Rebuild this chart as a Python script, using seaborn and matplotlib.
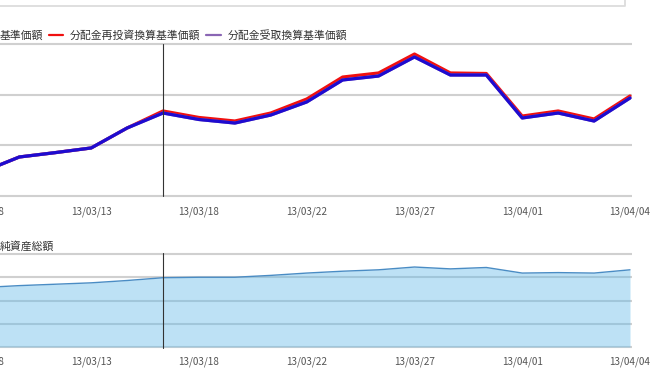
import pandas as pd
import seaborn as sns
import matplotlib.pyplot as plt
from matplotlib.lines import Line2D

dates = ['13/03/08', '13/03/11', '13/03/12', '13/03/13', '13/03/14', '13/03/15', '13/03/18',
         '13/03/19', '13/03/21', '13/03/22', '13/03/25', '13/03/26', '13/03/27', '13/03/28',
         '13/03/29', '13/04/01', '13/04/02', '13/04/03', '13/04/04']
# 基準価額
nav = [9242, 9385, 9428, 9474, 9671, 9819, 9755, 9720, 9799, 9928,
       10145, 10184, 10372, 10194, 10194, 9770, 9819, 9740, 9967]
# 分配金再投資換算基準価額
nav_reinvest = [9242, 9385, 9428, 9474, 9671, 9839, 9775, 9740, 9819, 9957,
                10174, 10214, 10401, 10214, 10209, 9789, 9839, 9760, 9987]
# 分配金受取換算基準価額
nav_receive = [9242, 9385, 9428, 9474, 9671, 9819, 9755, 9720, 9799, 9928,
               10145, 10184, 10372, 10194, 10194, 9770, 9819, 9740, 9967]
# 純資産総額
net_assets = [128, 132, 135, 138, 143, 149, 150, 150, 154, 159,
              163, 166, 172, 168, 171, 159, 160, 159, 166]

top_grid = [9000, 9500, 10000, 10500]
bottom_grid = [0, 50, 100, 150, 200]
cursor_idx = 5

df = pd.DataFrame({'idx': range(len(dates)), 'nav': nav, 'reinvest': nav_reinvest,
                   'receive': nav_receive, 'assets': net_assets})

sns.set_style('white')
plt.rcParams['font.family'] = ['Noto Sans CJK JP', 'DejaVu Sans']

W, H = 655, 383
fig = plt.figure(figsize=(W / 100, H / 100), dpi=100)

def px_axes(x0, x1, y0, y1):
    return fig.add_axes([x0 / W, 1 - y1 / H, (x1 - x0) / W, (y1 - y0) / H])

red = '#f01010'
blue = '#1e0bd0'
purple = '#8a66b4'

# top: price chart
ax = px_axes(-30, 632, 42, 198)
sns.lineplot(data=df, x='idx', y='reinvest', color=red, lw=2.3, ax=ax, zorder=3)
sns.lineplot(data=df, x='idx', y='receive', color=purple, lw=2.3, ax=ax, zorder=4)
sns.lineplot(data=df, x='idx', y='nav', color=blue, lw=2.3, ax=ax, zorder=5)
step = 1500 / 152
ax.set_ylim(9000 - 2 * step, 10500 + 2 * step)

# bottom: net assets
ax2 = px_axes(-30, 632, 252, 349)
ax2.fill_between(df['idx'], 0, df['assets'], color='#60b8e9', alpha=0.41, lw=0, zorder=3)
sns.lineplot(data=df, x='idx', y='assets', color='#4a8cc4', lw=1.0, ax=ax2, zorder=4)
step2 = 200 / 93
ax2.set_ylim(-2 * step2, 200 + 2 * step2)

xl = (0 - 13.4 / 35.92, 18 + 2 / 35.92)
for a, grid, pad in [(ax, top_grid, 6.0), (ax2, bottom_grid, 5.5)]:
    a.set_xlim(*xl)
    a.set_yticks(grid)
    a.set_xticks(range(0, len(dates), 3))
    a.set_xticklabels(dates[::3])
    a.tick_params(axis='y', length=0, labelleft=False)
    a.tick_params(axis='x', length=0, pad=pad, labelsize=7.2, labelcolor='#555555')
    a.grid(axis='y', color='#d0d0d0', lw=1.5)
    a.grid(axis='x', visible=False)
    a.set_xlabel('')
    a.set_ylabel('')
    a.axvline(cursor_idx, color='#333333', lw=0.8, ymin=0.012, ymax=0.988, zorder=6)
    sns.despine(ax=a, left=True, bottom=True)

handles = [Line2D([], [], color=blue, lw=1.6), Line2D([], [], color=red, lw=1.6),
           Line2D([], [], color=purple, lw=1.6)]
labels = ['基準価額', '分配金再投資換算基準価額', '分配金受取換算基準価額']
fig.legend(handles, labels, ncols=3, loc='center left', bbox_to_anchor=(-22.3 / W, 1 - 35.5 / H),
           frameon=False, borderpad=0, borderaxespad=0, handlelength=1.35, handletextpad=0.63,
           columnspacing=0.54, fontsize=7.8, labelcolor='#333333')

fig.text(0, 1 - 246 / H, '純資産総額', fontsize=7.8, color='#333333', ha='left', va='center')

# frame edge of the box above
fig.add_artist(Line2D([0, 625 / W, 625 / W], [1 - 6 / H, 1 - 6 / H, 1], color='#dcdcdc', lw=1.3))

fig.savefig('out.png', dpi=100)
